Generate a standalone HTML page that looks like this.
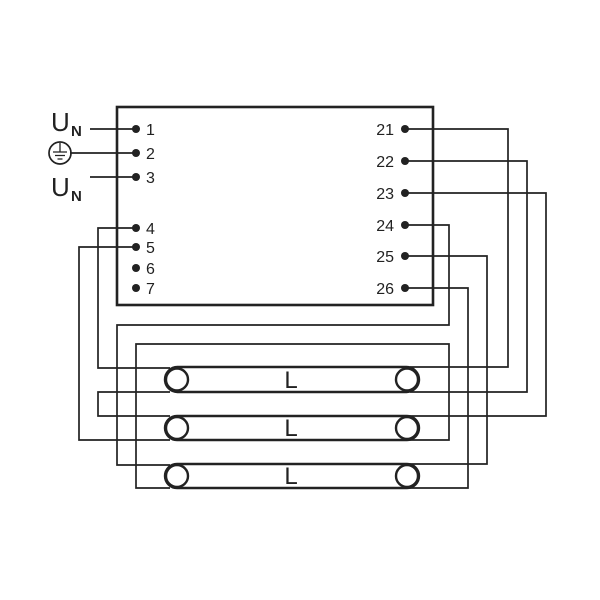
<!DOCTYPE html><html><head><style>body{margin:0;background:#fff}svg{display:block}text{font-family:"Liberation Sans",sans-serif;fill:#222}</style></head><body>
<svg width="600" height="600" viewBox="0 0 600 600">
<g fill="none" stroke="#222" stroke-width="1.7">
<rect x="117" y="107" width="316" height="198" stroke-width="2.6"/>
<path d="M90 129H136M70 153H136M90 177H136"/>
<path d="M136 228H98V368H170M136 247H79V440H170M170 392H98V416H170"/>
<path d="M405 129H508V367H410M405 161H527V392H410M405 193H546V416H410"/>
<path d="M405 225H449V325H117V465H170M170 488H136V344H449V440H410"/>
<path d="M405 256H487V464H410M405 288H468V488H410"/>
<g stroke-width="2.4">
<rect x="165" y="367" width="254" height="25" rx="12.5"/>
<rect x="165" y="416" width="254" height="24" rx="12"/>
<rect x="165" y="464" width="254" height="24" rx="12"/>
<circle cx="177" cy="379.5" r="11"/><circle cx="407" cy="379.5" r="11"/>
<circle cx="177" cy="428" r="11"/><circle cx="407" cy="428" r="11"/>
<circle cx="177" cy="476" r="11"/><circle cx="407" cy="476" r="11"/>
</g>
<circle cx="60" cy="153" r="11"/>
<path d="M60 143V152M53 152H67M55 155.5H65M57.5 159H62.5" stroke-width="1.3"/>
</g>
<g fill="#222">
<circle cx="136" cy="129" r="4"/><circle cx="136" cy="153" r="4"/><circle cx="136" cy="177" r="4"/>
<circle cx="136" cy="228" r="4"/><circle cx="136" cy="247" r="4"/><circle cx="136" cy="268" r="4"/><circle cx="136" cy="288" r="4"/>
<circle cx="405" cy="129" r="4"/><circle cx="405" cy="161" r="4"/><circle cx="405" cy="193" r="4"/>
<circle cx="405" cy="225" r="4"/><circle cx="405" cy="256" r="4"/><circle cx="405" cy="288" r="4"/>
</g>
<g font-size="16">
<text x="146" y="135">1</text><text x="146" y="159">2</text><text x="146" y="183">3</text>
<text x="146" y="234">4</text><text x="146" y="253">5</text><text x="146" y="274">6</text><text x="146" y="294">7</text>
<g text-anchor="end"><text x="394" y="135">21</text><text x="394" y="167">22</text><text x="394" y="199">23</text>
<text x="394" y="231">24</text><text x="394" y="262">25</text><text x="394" y="294">26</text></g>
</g>
<text x="51" y="131" font-size="26">U</text><text x="71" y="136" font-size="15" font-weight="bold">N</text>
<text x="51" y="196" font-size="26">U</text><text x="71" y="201" font-size="15" font-weight="bold">N</text>
<g font-size="24" text-anchor="middle"><text x="291" y="388">L</text><text x="291" y="436">L</text><text x="291" y="484">L</text></g>
</svg></body></html>
